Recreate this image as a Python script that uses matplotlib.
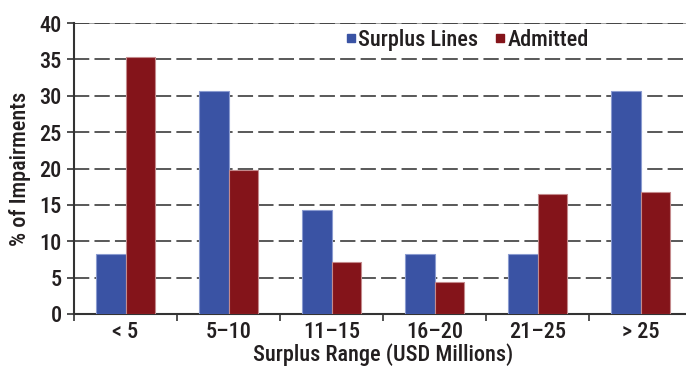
import numpy as np
import matplotlib.pyplot as plt
from matplotlib.lines import Line2D

categories = ['< 5', '5\u201310', '11\u201315', '16\u201320', '21\u201325', '> 25']
surplus_lines = [8.2, 30.6, 14.3, 8.2, 8.2, 30.6]
admitted = [35.3, 19.8, 7.1, 4.4, 16.5, 16.8]
y_ticks = [0, 5, 10, 15, 20, 25, 30, 35, 40]

plt.rcParams['font.family'] = ['Liberation Sans Narrow', 'Roboto Condensed',
                               'Archivo Narrow', 'DejaVu Sans']
plt.rcParams['font.weight'] = 'medium'
plt.rcParams['axes.labelweight'] = 'medium'
text_color = '#231f20'
blue = '#3a53a4'
red = '#84141a'
fs = 16

fig = plt.figure(figsize=(6.86, 3.67), dpi=100)
ax = fig.add_axes([74 / 686, 1 - 314 / 367, 618 / 686, 291 / 367])

x = np.arange(len(categories))
w = 0.285
ax.bar(x - w / 2, surplus_lines, w, color=blue, edgecolor='#8a9bd0',
       linewidth=0.8, zorder=3, label='Surplus Lines')
ax.bar(x + w / 2, admitted, w, color=red, edgecolor='#c48a8c',
       linewidth=0.8, zorder=3, label='Admitted')

# dashed horizontal gridlines
for y in y_ticks[1:]:
    ax.axhline(y, color='#2b2b2b', lw=1.1, linestyle=(0, (10, 3.4)), zorder=1)
ax.axhline(40, color='#888888', lw=1.1, zorder=0.5)

ax.set_xlim(-0.5, len(categories) - 0.5)
ax.set_ylim(0, 40)
ax.set_yticks(y_ticks)
ax.set_xticks(x)
ax.set_xticklabels(categories)
ax.set_xticks(np.arange(-0.5, len(categories)), minor=True)
ax.tick_params(axis='x', which='major', length=0, pad=5, labelsize=fs,
               labelcolor=text_color)
ax.tick_params(axis='x', which='minor', length=5, width=1.2, color='#333333')
ax.tick_params(axis='y', length=5, width=1.2, color='#333333', pad=4,
               labelsize=fs, labelcolor=text_color)

for s in ['top', 'right']:
    ax.spines[s].set_visible(False)
for s in ['left', 'bottom']:
    ax.spines[s].set_color('#333333')
    ax.spines[s].set_linewidth(1.5)

ax.set_ylabel('% of Impairments', fontsize=fs, color=text_color, labelpad=6)
ax.set_xlabel('Surplus Range (USD Millions)', fontsize=fs, color=text_color,
              labelpad=0)

handles = [Line2D([], [], marker='s', linestyle='', markersize=5.2, color=blue),
           Line2D([], [], marker='s', linestyle='', markersize=5.2, color=red)]
fig.legend(handles, ['Surplus Lines', 'Admitted'], loc='center left',
           bbox_to_anchor=(347 / 686, 1 - 40 / 367), ncol=2, frameon=False,
           fontsize=fs, handlelength=0.36, borderpad=0, borderaxespad=0,
           handletextpad=0.15, columnspacing=0.8, labelcolor=text_color)

fig.savefig('out.png', dpi=100)
